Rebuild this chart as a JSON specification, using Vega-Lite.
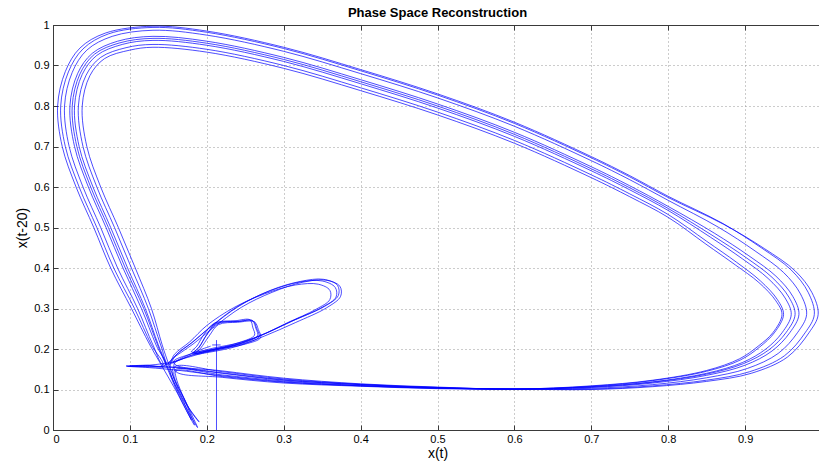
{
  "$schema": "https://vega.github.io/schema/vega-lite/v6.json",
  "width": 769,
  "height": 405,
  "autosize": {"type": "none"},
  "padding": {"left": 53, "top": 25, "right": 0, "bottom": 37},
  "background": "white",
  "config": {
    "view": {"stroke": "#3a3a3a", "strokeWidth": 1},
    "font": "Liberation Sans"
  },
  "title": {"text": "Phase Space Reconstruction", "fontSize": 13, "fontWeight": "bold", "font": "Liberation Sans", "color": "black", "offset": -1, "anchor": "middle"},
  "datasets": {
    "path": [
      {"x":0.205,"y":0.207},{"x":0.19,"y":0.197},{"x":0.17,"y":0.18},{"x":0.15,"y":0.163},
      {"x":0.16,"y":0.185},{"x":0.18,"y":0.215},{"x":0.205,"y":0.255},{"x":0.24,"y":0.305},{"x":0.28,"y":0.342},{"x":0.32,"y":0.365},{"x":0.35,"y":0.368},{"x":0.367,"y":0.352},{"x":0.368,"y":0.328},{"x":0.35,"y":0.303},{"x":0.31,"y":0.268},{"x":0.27,"y":0.233},{"x":0.235,"y":0.208},{"x":0.2,"y":0.193},{"x":0.183,"y":0.19},{"x":0.19,"y":0.205},{"x":0.2,"y":0.235},{"x":0.213,"y":0.262},{"x":0.24,"y":0.268},{"x":0.259,"y":0.27},{"x":0.264,"y":0.25},{"x":0.266,"y":0.232},{"x":0.245,"y":0.214},{"x":0.21,"y":0.2},{"x":0.18,"y":0.185},{"x":0.16,"y":0.17},
      {"x":0.125,"y":0.16},{"x":0.095,"y":0.158},{"x":0.125,"y":0.154},
      {"x":0.16,"y":0.148},{"x":0.22,"y":0.134},{"x":0.30,"y":0.119},{"x":0.40,"y":0.109},{"x":0.50,"y":0.103},{"x":0.60,"y":0.101},{"x":0.70,"y":0.101},{"x":0.78,"y":0.109},{"x":0.85,"y":0.123},{"x":0.906,"y":0.144},{"x":0.951,"y":0.183},{"x":0.978,"y":0.24},{"x":0.99,"y":0.285},{"x":0.982,"y":0.34},{"x":0.96,"y":0.395},{"x":0.921,"y":0.45},{"x":0.87,"y":0.511},{"x":0.80,"y":0.577},{"x":0.75,"y":0.628},{"x":0.70,"y":0.675},{"x":0.60,"y":0.76},{"x":0.50,"y":0.83},{"x":0.40,"y":0.89},{"x":0.30,"y":0.945},{"x":0.20,"y":0.985},{"x":0.13,"y":0.997},{"x":0.068,"y":0.98},{"x":0.035,"y":0.943},{"x":0.016,"y":0.885},{"x":0.006,"y":0.80},{"x":0.012,"y":0.70},{"x":0.030,"y":0.60},{"x":0.053,"y":0.50},{"x":0.075,"y":0.40},{"x":0.102,"y":0.30},{"x":0.126,"y":0.21},{"x":0.141,"y":0.16},
      {"x":0.162,"y":0.09},{"x":0.184,"y":0.012},{"x":0.172,"y":0.07},{"x":0.155,"y":0.145},
      {"x":0.16,"y":0.158},{"x":0.22,"y":0.144},{"x":0.30,"y":0.126},{"x":0.40,"y":0.113},{"x":0.50,"y":0.105},{"x":0.60,"y":0.101},{"x":0.70,"y":0.103},{"x":0.78,"y":0.112},{"x":0.85,"y":0.129},{"x":0.903,"y":0.152},{"x":0.943,"y":0.189},{"x":0.968,"y":0.24},{"x":0.98,"y":0.285},{"x":0.972,"y":0.336},{"x":0.95,"y":0.389},{"x":0.913,"y":0.442},{"x":0.865,"y":0.501},{"x":0.80,"y":0.567},{"x":0.75,"y":0.618},{"x":0.70,"y":0.665},{"x":0.60,"y":0.75},{"x":0.50,"y":0.82},{"x":0.40,"y":0.88},{"x":0.30,"y":0.935},{"x":0.20,"y":0.975},{"x":0.13,"y":0.987},{"x":0.077,"y":0.972},{"x":0.044,"y":0.938},{"x":0.025,"y":0.883},{"x":0.015,"y":0.80},{"x":0.021,"y":0.70},{"x":0.039,"y":0.60},{"x":0.062,"y":0.50},{"x":0.084,"y":0.40},{"x":0.11,"y":0.30},{"x":0.13,"y":0.21},{"x":0.144,"y":0.16},
      {"x":0.16,"y":0.183},{"x":0.182,"y":0.212},{"x":0.208,"y":0.252},{"x":0.245,"y":0.303},{"x":0.285,"y":0.34},{"x":0.325,"y":0.365},{"x":0.355,"y":0.37},{"x":0.373,"y":0.355},{"x":0.374,"y":0.33},{"x":0.356,"y":0.302},{"x":0.315,"y":0.265},{"x":0.275,"y":0.232},{"x":0.238,"y":0.206},{"x":0.203,"y":0.192},{"x":0.185,"y":0.188},{"x":0.192,"y":0.202},{"x":0.203,"y":0.232},{"x":0.215,"y":0.26},{"x":0.24,"y":0.266},{"x":0.262,"y":0.267},{"x":0.267,"y":0.248},{"x":0.27,"y":0.228},{"x":0.25,"y":0.212},{"x":0.212,"y":0.198},{"x":0.182,"y":0.183},{"x":0.158,"y":0.165},
      {"x":0.16,"y":0.144},{"x":0.22,"y":0.130},{"x":0.30,"y":0.116},{"x":0.40,"y":0.108},{"x":0.50,"y":0.102},{"x":0.60,"y":0.101},{"x":0.70,"y":0.105},{"x":0.78,"y":0.116},{"x":0.85,"y":0.135},{"x":0.90,"y":0.160},{"x":0.935,"y":0.195},{"x":0.958,"y":0.24},{"x":0.97,"y":0.285},{"x":0.962,"y":0.33},{"x":0.94,"y":0.38},{"x":0.905,"y":0.43},{"x":0.86,"y":0.486},{"x":0.80,"y":0.552},{"x":0.75,"y":0.603},{"x":0.70,"y":0.65},{"x":0.60,"y":0.735},{"x":0.50,"y":0.805},{"x":0.40,"y":0.865},{"x":0.30,"y":0.92},{"x":0.20,"y":0.96},{"x":0.13,"y":0.972},{"x":0.084,"y":0.96},{"x":0.051,"y":0.93},{"x":0.032,"y":0.88},{"x":0.022,"y":0.80},{"x":0.028,"y":0.70},{"x":0.046,"y":0.60},{"x":0.069,"y":0.50},{"x":0.091,"y":0.40},{"x":0.115,"y":0.30},{"x":0.134,"y":0.21},{"x":0.146,"y":0.16},
      {"x":0.12,"y":0.159},{"x":0.097,"y":0.157},{"x":0.13,"y":0.156},
      {"x":0.16,"y":0.155},{"x":0.22,"y":0.141},{"x":0.30,"y":0.124},{"x":0.40,"y":0.112},{"x":0.50,"y":0.105},{"x":0.60,"y":0.101},{"x":0.70,"y":0.107},{"x":0.78,"y":0.119},{"x":0.85,"y":0.14},{"x":0.897,"y":0.167},{"x":0.927,"y":0.2},{"x":0.948,"y":0.24},{"x":0.96,"y":0.285},{"x":0.952,"y":0.326},{"x":0.93,"y":0.374},{"x":0.897,"y":0.422},{"x":0.855,"y":0.476},{"x":0.80,"y":0.542},{"x":0.75,"y":0.593},{"x":0.70,"y":0.64},{"x":0.60,"y":0.725},{"x":0.50,"y":0.795},{"x":0.40,"y":0.855},{"x":0.30,"y":0.91},{"x":0.20,"y":0.95},{"x":0.13,"y":0.962},{"x":0.09,"y":0.952},{"x":0.057,"y":0.925},{"x":0.038,"y":0.878},{"x":0.028,"y":0.80},{"x":0.034,"y":0.70},{"x":0.052,"y":0.60},{"x":0.075,"y":0.50},{"x":0.097,"y":0.40},{"x":0.12,"y":0.30},{"x":0.137,"y":0.21},{"x":0.148,"y":0.16},
      {"x":0.165,"y":0.085},{"x":0.188,"y":0.006},{"x":0.175,"y":0.06},{"x":0.157,"y":0.138},
      {"x":0.16,"y":0.15},{"x":0.22,"y":0.136},{"x":0.30,"y":0.121},{"x":0.40,"y":0.110},{"x":0.50,"y":0.104},{"x":0.60,"y":0.101},{"x":0.70,"y":0.108},{"x":0.78,"y":0.122},{"x":0.85,"y":0.145},{"x":0.894,"y":0.173},{"x":0.919,"y":0.205},{"x":0.938,"y":0.24},{"x":0.95,"y":0.285},{"x":0.942,"y":0.322},{"x":0.92,"y":0.368},{"x":0.889,"y":0.414},{"x":0.85,"y":0.466},{"x":0.80,"y":0.532},{"x":0.75,"y":0.583},{"x":0.70,"y":0.63},{"x":0.60,"y":0.715},{"x":0.50,"y":0.785},{"x":0.40,"y":0.845},{"x":0.30,"y":0.90},{"x":0.20,"y":0.94},{"x":0.13,"y":0.952},{"x":0.095,"y":0.944},{"x":0.062,"y":0.92},{"x":0.043,"y":0.876},{"x":0.033,"y":0.80},{"x":0.039,"y":0.70},{"x":0.057,"y":0.60},{"x":0.08,"y":0.50},{"x":0.102,"y":0.40},{"x":0.124,"y":0.30},{"x":0.14,"y":0.21},{"x":0.15,"y":0.16},
      {"x":0.158,"y":0.187},{"x":0.178,"y":0.218},{"x":0.2,"y":0.258},{"x":0.235,"y":0.302},{"x":0.275,"y":0.336},{"x":0.315,"y":0.358},{"x":0.345,"y":0.36},{"x":0.36,"y":0.345},{"x":0.36,"y":0.322},{"x":0.342,"y":0.298},{"x":0.305,"y":0.265},{"x":0.268,"y":0.232},{"x":0.232,"y":0.21},{"x":0.198,"y":0.196},{"x":0.18,"y":0.193},{"x":0.187,"y":0.207},{"x":0.197,"y":0.238},{"x":0.21,"y":0.264},{"x":0.238,"y":0.27},{"x":0.256,"y":0.272},{"x":0.26,"y":0.252},{"x":0.262,"y":0.234},{"x":0.242,"y":0.216},{"x":0.208,"y":0.202},{"x":0.178,"y":0.187},{"x":0.157,"y":0.17},
      {"x":0.16,"y":0.16},{"x":0.22,"y":0.146},{"x":0.30,"y":0.128},{"x":0.40,"y":0.114},{"x":0.50,"y":0.106},{"x":0.60,"y":0.101},{"x":0.70,"y":0.109},{"x":0.78,"y":0.123},{"x":0.85,"y":0.147},{"x":0.893,"y":0.176},{"x":0.917,"y":0.207},{"x":0.936,"y":0.24},{"x":0.948,"y":0.285},{"x":0.94,"y":0.319},{"x":0.918,"y":0.364},{"x":0.887,"y":0.408},{"x":0.849,"y":0.459},{"x":0.80,"y":0.525},{"x":0.75,"y":0.576},{"x":0.70,"y":0.623},{"x":0.60,"y":0.708},{"x":0.50,"y":0.778},{"x":0.40,"y":0.838},{"x":0.30,"y":0.893},{"x":0.20,"y":0.933},{"x":0.13,"y":0.945},{"x":0.10,"y":0.938},{"x":0.067,"y":0.917},{"x":0.048,"y":0.875},{"x":0.038,"y":0.80},{"x":0.044,"y":0.70},{"x":0.062,"y":0.60},{"x":0.085,"y":0.50},{"x":0.107,"y":0.40},{"x":0.128,"y":0.30},{"x":0.142,"y":0.21},{"x":0.151,"y":0.16},
      {"x":0.168,"y":0.08},{"x":0.19,"y":0.02},{"x":0.178,"y":0.05},{"x":0.16,"y":0.13},
      {"x":0.16,"y":0.146},{"x":0.22,"y":0.132},{"x":0.30,"y":0.118},{"x":0.40,"y":0.109},{"x":0.50,"y":0.103},{"x":0.60,"y":0.101},{"x":0.70,"y":0.1},{"x":0.78,"y":0.107},{"x":0.85,"y":0.12},{"x":0.908,"y":0.14},{"x":0.955,"y":0.18},{"x":0.983,"y":0.24},{"x":0.995,"y":0.285},{"x":0.987,"y":0.339},{"x":0.965,"y":0.393},{"x":0.925,"y":0.448},{"x":0.872,"y":0.508},{"x":0.80,"y":0.574},{"x":0.75,"y":0.625},{"x":0.70,"y":0.672},{"x":0.60,"y":0.757},{"x":0.50,"y":0.827},{"x":0.40,"y":0.887},{"x":0.30,"y":0.942},{"x":0.20,"y":0.982},{"x":0.13,"y":0.994},{"x":0.072,"y":0.978},{"x":0.039,"y":0.941},{"x":0.02,"y":0.884},{"x":0.01,"y":0.80},{"x":0.016,"y":0.70},{"x":0.034,"y":0.60},{"x":0.057,"y":0.50},{"x":0.079,"y":0.40},{"x":0.106,"y":0.30},{"x":0.128,"y":0.21},{"x":0.143,"y":0.16},
      {"x":0.12,"y":0.16},{"x":0.1,"y":0.158},{"x":0.13,"y":0.156},
      {"x":0.16,"y":0.154},{"x":0.22,"y":0.14},{"x":0.30,"y":0.123},{"x":0.40,"y":0.112},{"x":0.50,"y":0.104},{"x":0.60,"y":0.101},{"x":0.70,"y":0.106},{"x":0.78,"y":0.118},{"x":0.85,"y":0.138},{"x":0.898,"y":0.164},{"x":0.931,"y":0.198},{"x":0.953,"y":0.24},{"x":0.965,"y":0.285},{"x":0.957,"y":0.328},{"x":0.935,"y":0.377},{"x":0.901,"y":0.426},{"x":0.857,"y":0.481},{"x":0.80,"y":0.547},{"x":0.75,"y":0.598},{"x":0.70,"y":0.645},{"x":0.60,"y":0.73},{"x":0.50,"y":0.80},{"x":0.40,"y":0.86},{"x":0.30,"y":0.915},{"x":0.20,"y":0.955},{"x":0.13,"y":0.967},{"x":0.087,"y":0.956},{"x":0.054,"y":0.928},{"x":0.035,"y":0.879},{"x":0.025,"y":0.80},{"x":0.031,"y":0.70},{"x":0.049,"y":0.60},{"x":0.072,"y":0.50},{"x":0.094,"y":0.40},{"x":0.118,"y":0.30},{"x":0.136,"y":0.21},{"x":0.147,"y":0.16},
      {"x":0.163,"y":0.088},{"x":0.18,"y":0.025},{"x":0.17,"y":0.07},{"x":0.152,"y":0.15},
      {"x":0.16,"y":0.185},{"x":0.181,"y":0.216},{"x":0.206,"y":0.256},{"x":0.242,"y":0.306},{"x":0.283,"y":0.345},{"x":0.322,"y":0.367},{"x":0.352,"y":0.372},{"x":0.37,"y":0.357},{"x":0.371,"y":0.332},{"x":0.353,"y":0.305},{"x":0.312,"y":0.27},{"x":0.272,"y":0.235},{"x":0.236,"y":0.21},{"x":0.2,"y":0.195},{"x":0.182,"y":0.19},{"x":0.19,"y":0.204},{"x":0.2,"y":0.236},{"x":0.212,"y":0.263},{"x":0.242,"y":0.268},{"x":0.26,"y":0.27},{"x":0.265,"y":0.25},{"x":0.268,"y":0.23},{"x":0.247,"y":0.213},{"x":0.21,"y":0.199},{"x":0.18,"y":0.184},{"x":0.155,"y":0.165}
    ],
    "start": [
      {"seg":"v","x":0.2126,"y":0.0},{"seg":"v","x":0.2126,"y":0.222},
      {"seg":"h","x":0.207,"y":0.21},{"seg":"h","x":0.218,"y":0.21}
    ]
  },
  "layer": [
    {
      "data": {"name": "path"},
      "mark": {"type": "line", "interpolate": "catmull-rom", "stroke": "#0000ff", "strokeWidth": 0.7, "clip": true},
      "encoding": {
        "x": {"field": "x", "type": "quantitative", "scale": {"domain": [0, 1], "nice": false, "zero": false},
          "axis": {"values": [0,0.1,0.2,0.3,0.4,0.5,0.6,0.7,0.8,0.9], "format": "~g", "title": "x(t)",
            "grid": true, "gridDash": [1,3], "gridColor": "#999999", "gridOpacity": 1, "gridWidth": 1,
            "tickSize": -5, "tickColor": "#3a3a3a", "domainColor": "#3a3a3a",
            "labelFont": "Liberation Sans", "labelFontSize": 11, "labelColor": "black", "labelPadding": 8,
            "titleFont": "Liberation Sans", "titleFontSize": 14, "titleFontWeight": "normal", "titleColor": "black", "titlePadding": 2}},
        "y": {"field": "y", "type": "quantitative", "scale": {"domain": [0, 1], "nice": false, "zero": false},
          "axis": {"values": [0,0.1,0.2,0.3,0.4,0.5,0.6,0.7,0.8,0.9,1], "format": "~g", "title": "x(t-20)",
            "grid": true, "gridDash": [1,3], "gridColor": "#999999", "gridOpacity": 1, "gridWidth": 1,
            "tickSize": -5, "tickColor": "#3a3a3a", "domainColor": "#3a3a3a",
            "labelFont": "Liberation Sans", "labelFontSize": 11, "labelColor": "black", "labelPadding": 9,
            "titleFont": "Liberation Sans", "titleFontSize": 14, "titleFontWeight": "normal", "titleColor": "black", "titlePadding": 4}},
        "order": {"value": null}
      }
    },
    {
      "data": {"name": "start"},
      "mark": {"type": "line", "interpolate": "linear", "stroke": "#0000ff", "strokeWidth": 0.7},
      "encoding": {
        "x": {"field": "x", "type": "quantitative",
          "axis": {"orient": "top", "values": [0,0.1,0.2,0.3,0.4,0.5,0.6,0.7,0.8,0.9], "labels": false, "title": null, "grid": false,
            "tickSize": -5, "tickColor": "#3a3a3a", "domainColor": "#3a3a3a"}},
        "y": {"field": "y", "type": "quantitative"},
        "detail": {"field": "seg"},
        "order": {"value": null}
      }
    }
  ],
  "resolve": {"axis": {"x": "independent"}}
}
